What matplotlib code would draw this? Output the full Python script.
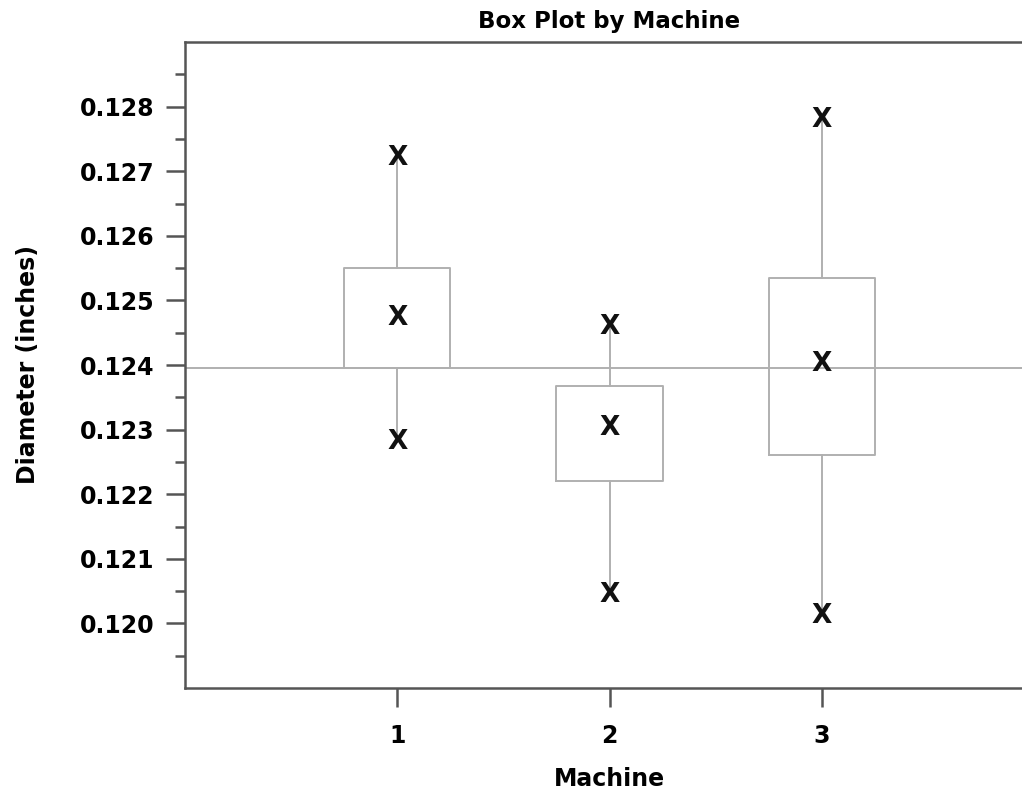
import matplotlib
matplotlib.use("Agg")
import matplotlib.pyplot as plt
from matplotlib.ticker import FixedLocator, FormatStrFormatter

machines = [1, 2, 3]
maxima = [0.12720, 0.12459, 0.12780]
q3 = [0.12550, 0.12368, 0.12534]
medians = [0.12472, 0.12302, 0.12402]
q1 = [0.12395, 0.12220, 0.12260]
minima = [0.12281, 0.12044, 0.12011]
ref_value = 0.12395
ytick_vals = [0.120, 0.121, 0.122, 0.123, 0.124, 0.125, 0.126, 0.127, 0.128]
yminor_vals = [0.1195, 0.1205, 0.1215, 0.1225, 0.1235, 0.1245, 0.1255,
               0.1265, 0.1275, 0.1285]

plt.rcParams['font.family'] = ['DejaVu Sans']
plt.rcParams['font.weight'] = 'bold'

fig = plt.figure(figsize=(10.22, 7.92), dpi=100)
ax = fig.add_axes([185 / 1022, 104 / 792, 849 / 1022, 646 / 792])

stats = []
for i in range(len(machines)):
    stats.append(dict(med=medians[i], q1=q1[i], q3=q3[i],
                      whislo=minima[i], whishi=maxima[i], fliers=[]))

gray = '#b0b0b0'
ax.bxp(stats, positions=machines, widths=0.5, showcaps=False,
       boxprops=dict(color=gray, linewidth=1.4),
       whiskerprops=dict(color=gray, linewidth=1.4),
       medianprops=dict(linestyle='none'))

ax.axhline(ref_value, color=gray, linewidth=1.4, zorder=1)

# X markers at max, median, min
for i, m in enumerate(machines):
    for v in (maxima[i], medians[i], minima[i]):
        ax.text(m, v, 'X', ha='center', va='center', fontsize=19,
                fontweight='bold', color='#111111')

ax.set_xlim(0, 4)
ax.set_ylim(0.119, 0.129)
ax.set_xticks(machines)
ax.set_xticklabels([str(m) for m in machines])
ax.yaxis.set_major_locator(FixedLocator(ytick_vals))
ax.yaxis.set_minor_locator(FixedLocator(yminor_vals))
ax.yaxis.set_major_formatter(FormatStrFormatter('%.3f'))

spine_c = '#555555'
for s in ['left', 'bottom', 'top']:
    ax.spines[s].set_color(spine_c)
    ax.spines[s].set_linewidth(1.8)
ax.spines['right'].set_visible(False)

ax.tick_params(axis='y', which='major', length=14, width=1.8, color=spine_c,
               labelsize=17, pad=8)
ax.tick_params(axis='y', which='minor', length=7, width=1.8, color=spine_c)
ax.tick_params(axis='x', which='major', length=14, width=1.8, color=spine_c,
               labelsize=17, pad=12)

ax.set_title('Box Plot by Machine', fontsize=16.5, fontweight='bold', pad=10)
ax.set_xlabel('Machine', fontsize=17, fontweight='bold')
ax.set_ylabel('Diameter (inches)', fontsize=17, fontweight='bold')
ax.xaxis.set_label_coords(0.5, -0.122)
ax.yaxis.set_label_coords(-0.171, 0.5)

fig.savefig('out.png', dpi=100)
